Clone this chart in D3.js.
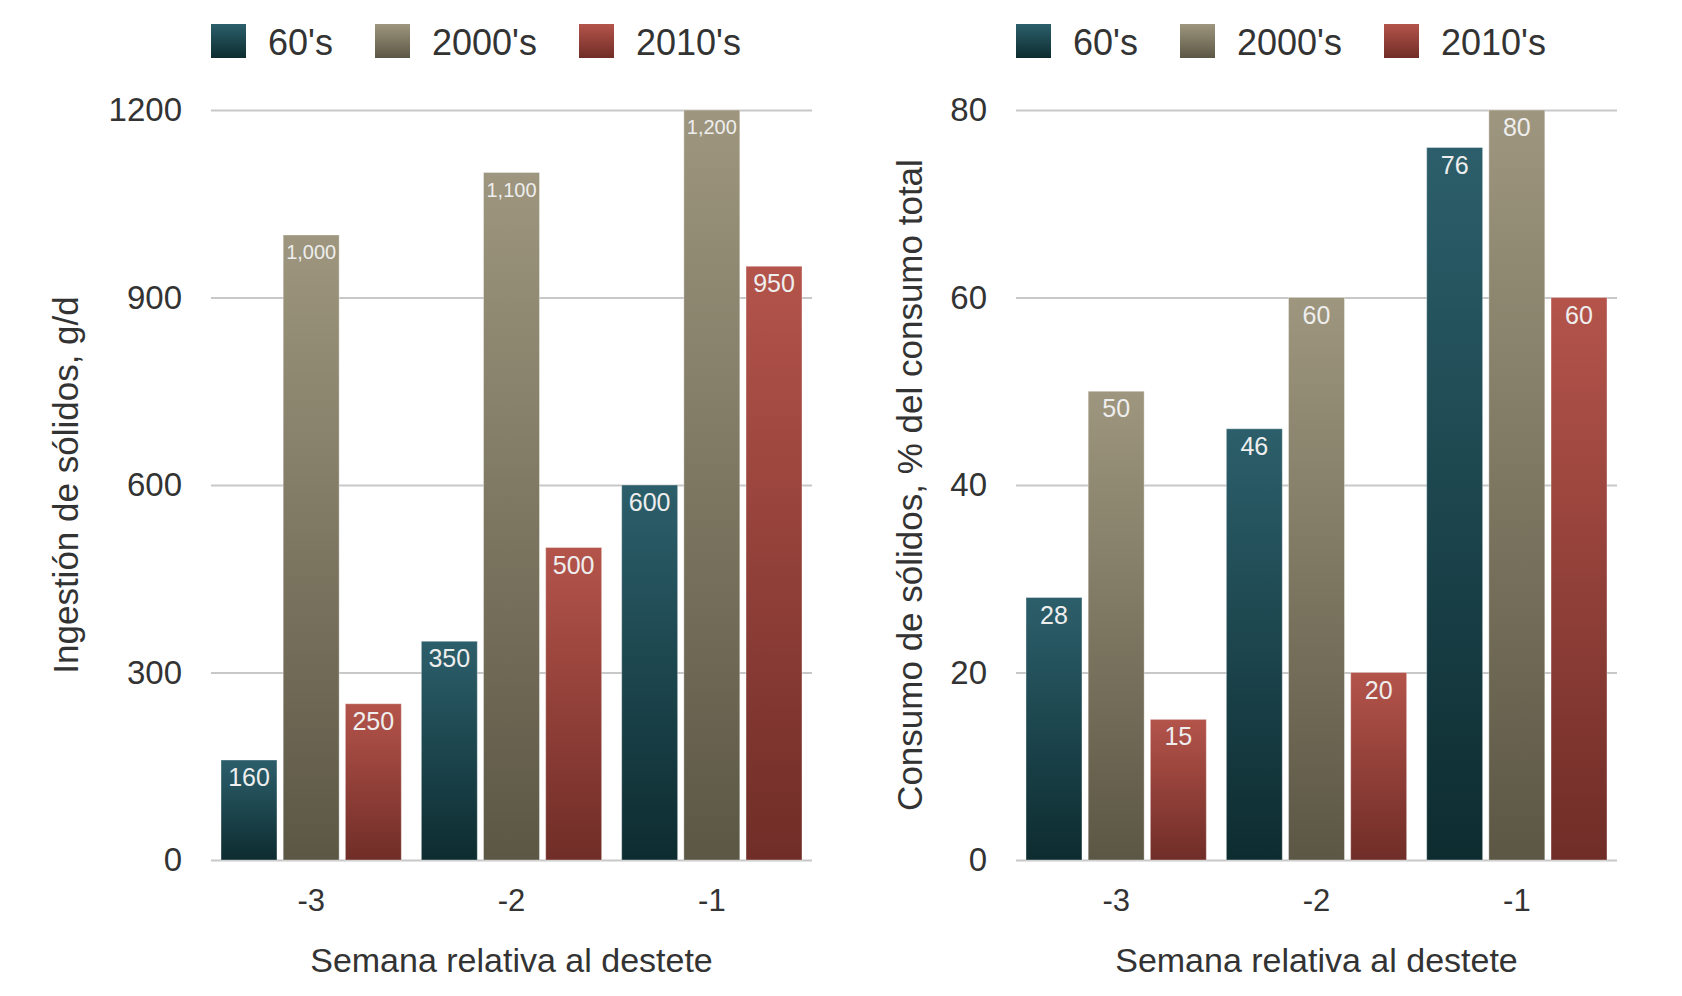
<!DOCTYPE html>
<html><head><meta charset="utf-8">
<script src="https://cdn.jsdelivr.net/npm/d3@7"></script>
<style>
html,body{margin:0;padding:0;background:#fff;}
svg{display:block;font-family:"Liberation Sans",Arial,Helvetica,sans-serif;}
</style></head>
<body>
<svg id="chart" width="1682" height="996"></svg>
<script>
const categories = ["-3", "-2", "-1"];
const seriesNames = ["60's", "2000's", "2010's"];
// Left chart: Ingestión de sólidos, g/d
const leftS60 = [160, 350, 600];
const leftS2000 = [1000, 1100, 1200];
const leftS2010 = [250, 500, 950];
const leftTicks = [0, 300, 600, 900, 1200];
// Right chart: Consumo de sólidos, % del consumo total
const rightS60 = [28, 46, 76];
const rightS2000 = [50, 60, 80];
const rightS2010 = [15, 20, 60];
const rightTicks = [0, 20, 40, 60, 80];

const colors = {
  "60's":   {top: "#2c5f6b", bottom: "#0d2c30"},
  "2000's": {top: "#9e967e", bottom: "#5c5745"},
  "2010's": {top: "#b4544b", bottom: "#702d27"}
};

const svg = d3.select("#chart");
const defs = svg.append("defs");
seriesNames.forEach((s, i) => {
  const g = defs.append("linearGradient").attr("id", "grad" + i)
    .attr("x1", 0).attr("y1", 0).attr("x2", 0).attr("y2", 1);
  g.append("stop").attr("offset", "0%").attr("stop-color", colors[s].top);
  g.append("stop").attr("offset", "100%").attr("stop-color", colors[s].bottom);
  const lg = defs.append("linearGradient").attr("id", "lgrad" + i)
    .attr("x1", 0).attr("y1", 0).attr("x2", 0).attr("y2", 1);
  lg.append("stop").attr("offset", "0%").attr("stop-color", colors[s].top);
  lg.append("stop").attr("offset", "100%").attr("stop-color", colors[s].bottom);
});

function drawChart(cfg) {
  const g = svg.append("g");
  const x0 = d3.scaleBand().domain(categories).range([cfg.x0, cfg.x1])
    .paddingInner(0.1).paddingOuter(0.05);
  const x1 = d3.scaleBand().domain(seriesNames).range([0, x0.bandwidth()]).paddingInner(0.1);
  const y = d3.scaleLinear().domain([0, cfg.max]).range([860, 110]);

  // grid
  const yAxis = d3.axisLeft(y).tickValues(cfg.ticks).tickFormat(d3.format("d"))
    .tickSize(-(cfg.x1 - cfg.x0)).tickPadding(29);
  const ya = g.append("g").attr("transform", `translate(${cfg.x0},0)`).call(yAxis);
  ya.select(".domain").remove();
  ya.selectAll(".tick line").attr("stroke", "#c8c8c8").attr("stroke-width", 2);
  ya.selectAll(".tick text").attr("font-size", 33).attr("fill", "#333")
    .attr("font-family", "Liberation Sans, Arial, sans-serif");

  const data = categories.map((c, i) => ({cat: c, vals: seriesNames.map((s, j) => ({s, j, v: cfg.series[j][i]}))}));
  const grp = g.selectAll(".grp").data(data).join("g")
    .attr("transform", d => `translate(${x0(d.cat)},0)`);
  const bars = grp.selectAll(".bar").data(d => d.vals).join("g");
  bars.append("rect")
    .attr("x", d => x1(d.s)).attr("width", x1.bandwidth())
    .attr("y", d => y(d.v)).attr("height", d => y(0) - y(d.v))
    .attr("fill", d => `url(#grad${d.j})`)
    .attr("stroke", "#ffffff").attr("stroke-opacity", 0.35).attr("stroke-width", 1);
  bars.append("text")
    .attr("x", d => x1(d.s) + x1.bandwidth() / 2)
    .attr("y", d => y(d.v) + (d.v >= 1000 ? 24 : 26))
    .attr("text-anchor", "middle")
    .attr("font-size", d => (d.v >= 1000 ? 20 : 25))
    .attr("fill", "#eeeeee")
    .text(d => cfg.fmt(d.v));

  // x axis labels
  const xa = g.append("g").attr("transform", `translate(0,860)`)
    .call(d3.axisBottom(x0).tickSize(0).tickPadding(30));
  xa.select(".domain").remove();
  xa.selectAll(".tick text").attr("font-size", 31).attr("fill", "#333")
    .attr("font-family", "Liberation Sans, Arial, sans-serif").attr("dy", "0.32em")
    .attr("y", 41);

  g.append("text").attr("x", (cfg.x0 + cfg.x1) / 2).attr("y", 960)
    .attr("text-anchor", "middle").attr("dy", "0.35em")
    .attr("font-size", 34).attr("fill", "#333").text("Semana relativa al destete");

  g.append("text").attr("transform", `translate(${cfg.ytx},485) rotate(-90)`)
    .attr("text-anchor", "middle").attr("dy", "0.35em")
    .attr("font-size", 35).attr("fill", "#333").text(cfg.ytitle);

  // legend
  const leg = g.append("g").attr("transform", `translate(${cfg.x0},0)`);
  const legPos = [0, 164, 368];
  seriesNames.forEach((s, j) => {
    const li = leg.append("g").attr("transform", `translate(${legPos[j]},0)`);
    li.append("rect").attr("x", 0).attr("y", 24).attr("width", 35).attr("height", 34)
      .attr("fill", `url(#lgrad${j})`);
    li.append("text").attr("x", 57).attr("y", 42).attr("dy", "0.35em")
      .attr("font-size", 36).attr("fill", "#333").text(s);
  });
}

drawChart({x0: 211, x1: 812, max: 1200, ticks: leftTicks,
  series: [leftS60, leftS2000, leftS2010], fmt: d3.format(","),
  ytitle: "Ingestión de sólidos, g/d", ytx: 66});
drawChart({x0: 1016, x1: 1617, max: 80, ticks: rightTicks,
  series: [rightS60, rightS2000, rightS2010], fmt: d3.format("d"),
  ytitle: "Consumo de sólidos, % del consumo total", ytx: 910});
</script>
</body></html>
